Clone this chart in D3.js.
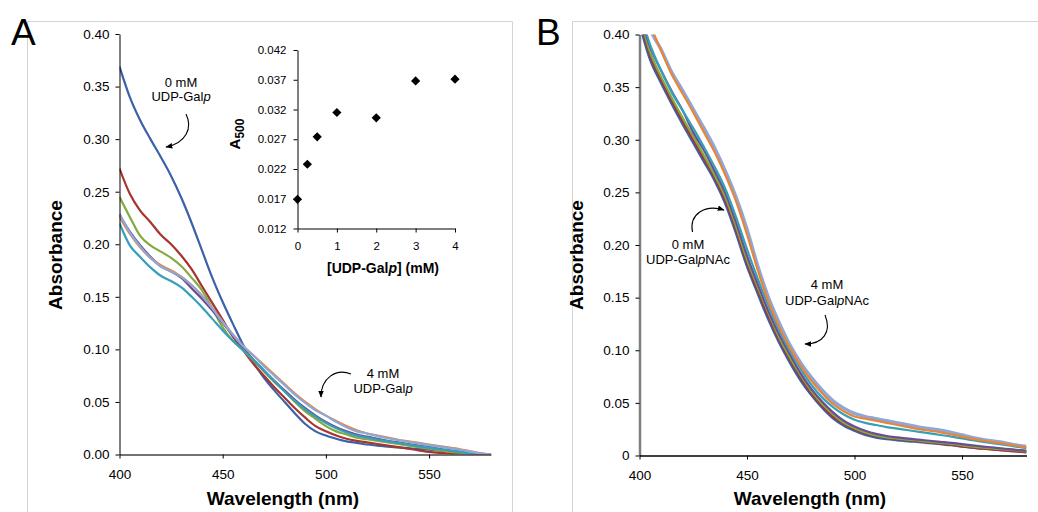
<!DOCTYPE html>
<html><head><meta charset="utf-8">
<script src="https://cdn.jsdelivr.net/npm/d3@7"></script>
<style>
body{margin:0;background:#fff;}
svg{display:block;font-family:"Liberation Sans",Arial,sans-serif;}
</style></head><body>
<svg id="fig" width="1038" height="512"></svg>
<script>
// Wavelength grid (nm) shared by all spectra
const wavelengths = d3.range(400, 581, 5);

// Panel A: spectra with UDP-Galp (0, 0.25, 0.5, 1, 2, 3, 4 mM)
const galp0   = [0.369,0.340,0.318,0.300,0.283,0.265,0.244,0.220,0.194,0.168, 0.145,0.124,0.104,0.087,0.073,0.061,0.050,0.039,0.029,0.022, 0.018,0.015,0.0125,0.011,0.0095,0.0085,0.0075,0.0068,0.006,0.0052, 0.0045,0.0037,0.003,0.002,0.0012,0.0004,0];
const galp025 = [0.272,0.248,0.232,0.221,0.209,0.200,0.189,0.176,0.160,0.144, 0.128,0.112,0.099,0.086,0.075,0.064,0.054,0.044,0.035,0.027, 0.022,0.018,0.015,0.013,0.0115,0.010,0.0085,0.007,0.0055,0.004, 0.0025,0.0015,0.0008,0.0003,0,0,0];
const galp05  = [0.245,0.226,0.208,0.199,0.193,0.187,0.179,0.168,0.156,0.139, 0.121,0.108,0.099,0.089,0.079,0.069,0.060,0.050,0.041,0.034, 0.027,0.022,0.019,0.016,0.0145,0.013,0.0115,0.010,0.0085,0.007, 0.0055,0.004,0.0028,0.0017,0.0008,0.0002,0];
const galp1   = [0.228,0.212,0.199,0.188,0.179,0.174,0.168,0.158,0.148,0.137, 0.125,0.113,0.101,0.090,0.080,0.070,0.061,0.052,0.044,0.037, 0.031,0.026,0.022,0.019,0.017,0.015,0.013,0.0115,0.010,0.0085, 0.007,0.0055,0.004,0.0027,0.0015,0.0005,0];
const galp2   = [0.220,0.199,0.188,0.178,0.170,0.165,0.159,0.150,0.140,0.129, 0.118,0.108,0.099,0.090,0.080,0.070,0.060,0.051,0.043,0.036, 0.030,0.025,0.021,0.018,0.016,0.014,0.0125,0.011,0.0095,0.008, 0.0065,0.005,0.0038,0.0025,0.0013,0.0004,0];
const galp3   = [0.226,0.210,0.197,0.187,0.180,0.175,0.169,0.161,0.151,0.139, 0.126,0.114,0.103,0.094,0.085,0.076,0.067,0.058,0.050,0.043, 0.037,0.032,0.027,0.023,0.020,0.018,0.016,0.014,0.0125,0.011, 0.0095,0.008,0.0065,0.005,0.003,0.0012,0];
const galp4   = [0.229,0.211,0.198,0.187,0.179,0.174,0.169,0.161,0.151,0.139, 0.126,0.114,0.103,0.094,0.084,0.075,0.066,0.057,0.049,0.042, 0.037,0.031,0.026,0.022,0.020,0.0175,0.0155,0.0138,0.012,0.0105, 0.009,0.0075,0.006,0.0045,0.0028,0.001,0];

// Panel B: spectra with UDP-GalpNAc (0, 0.25, 0.5, 1, 2, 3, 4 mM)
const galnac0   = [0.412,0.377,0.355,0.335,0.316,0.298,0.280,0.262,0.240,0.212, 0.181,0.155,0.130,0.108,0.089,0.072,0.058,0.046,0.036,0.029, 0.024,0.020,0.0175,0.016,0.015,0.014,0.0133,0.0123,0.0113,0.0103, 0.009,0.008,0.007,0.0062,0.0055,0.0045,0.0038];
const galnac025 = [0.415,0.380,0.357,0.337,0.318,0.300,0.282,0.264,0.242,0.214, 0.183,0.157,0.132,0.110,0.091,0.074,0.059,0.047,0.037,0.030, 0.025,0.021,0.0185,0.0168,0.0155,0.0145,0.0135,0.0125,0.0113,0.010, 0.0087,0.0075,0.0064,0.0055,0.0047,0.0038,0.003];
const galnac05  = [0.418,0.383,0.360,0.340,0.321,0.303,0.285,0.266,0.245,0.217, 0.186,0.160,0.135,0.112,0.093,0.076,0.061,0.049,0.039,0.031, 0.026,0.022,0.019,0.0172,0.016,0.015,0.014,0.013,0.012,0.011, 0.0097,0.0085,0.0075,0.0066,0.0058,0.0048,0.004];
const galnac1   = [0.420,0.388,0.366,0.346,0.328,0.307,0.290,0.270,0.249,0.221, 0.190,0.163,0.137,0.115,0.096,0.078,0.063,0.051,0.041,0.033, 0.0275,0.0235,0.0205,0.0185,0.0172,0.016,0.015,0.014,0.013,0.012, 0.0108,0.0096,0.0085,0.0074,0.0064,0.0054,0.0045];
const galnac2   = [0.422,0.390,0.366,0.345,0.328,0.311,0.293,0.274,0.253,0.226, 0.196,0.168,0.142,0.119,0.099,0.082,0.067,0.055,0.046,0.039, 0.034,0.031,0.029,0.027,0.0255,0.024,0.0225,0.021,0.0195,0.018, 0.0163,0.0145,0.013,0.0115,0.010,0.0085,0.007];
const galnac3   = [0.445,0.410,0.385,0.362,0.344,0.326,0.307,0.288,0.266,0.241, 0.210,0.176,0.146,0.122,0.102,0.085,0.071,0.059,0.049,0.042, 0.037,0.035,0.033,0.031,0.029,0.027,0.025,0.0235,0.022,0.020, 0.018,0.0158,0.014,0.0125,0.011,0.0093,0.0075];
const galnac4   = [0.440,0.405,0.386,0.364,0.347,0.329,0.311,0.292,0.270,0.245, 0.215,0.180,0.150,0.126,0.105,0.088,0.074,0.062,0.052,0.045, 0.040,0.037,0.035,0.033,0.031,0.029,0.027,0.0255,0.024,0.022, 0.0195,0.017,0.015,0.0135,0.012,0.010,0.0085];

// Inset: absorbance at 500 nm vs [UDP-Galp]
const insetConc = [0, 0.25, 0.5, 1, 2, 3, 4];
const insetA500 = [0.0169, 0.0228, 0.0274, 0.0315, 0.0306, 0.0368, 0.0371];

// Tick labels
const absTicks = [0, 0.05, 0.10, 0.15, 0.20, 0.25, 0.30, 0.35, 0.40];
const wlTicks = [400, 450, 500, 550];
const insetYTicks = [0.012, 0.017, 0.022, 0.027, 0.032, 0.037, 0.042];
const insetXTicks = [0, 1, 2, 3, 4];

const seriesColors = ["#3b62a8", "#a8332f", "#84aa3e", "#6a4e95", "#36a0ba", "#ec8433", "#8da7d8"];

const svg = d3.select("#fig");

// Panel frames
svg.append("path").attr("d", "M27.5,520V21.5H512.5V520").attr("fill", "none").attr("stroke", "#d4d4d4").attr("stroke-width", 1);
svg.append("path").attr("d", "M572.5,520V21.5H1045").attr("fill", "none").attr("stroke", "#d4d4d4").attr("stroke-width", 1);

// Panel letters
svg.append("text").attr("x", 11).attr("y", 45).attr("font-size", 37).text("A");
svg.append("text").attr("x", 536).attr("y", 45).attr("font-size", 37).text("B");

const defs = svg.append("defs");
defs.append("marker").attr("id", "head").attr("viewBox", "0 0 10 10").attr("refX", 9).attr("refY", 5)
  .attr("markerWidth", 7).attr("markerHeight", 7).attr("markerUnits", "userSpaceOnUse").attr("orient", "auto")
  .append("path").attr("d", "M0,1L10,5L0,9Z").attr("fill", "#000");

function styleAxis(g, domainColor, domainWidth) {
  g.select(".domain").attr("stroke", domainColor).attr("stroke-width", domainWidth);
  g.selectAll(".tick line").attr("stroke", "#000");
  g.selectAll(".tick text").attr("fill", "#000").attr("font-family", "Liberation Sans, Arial, sans-serif");
}

function panel(opts) {
  const { x, y, series, clipId, yFmt, widths, order } = opts;
  const g = svg.append("g");
  defs.append("clipPath").attr("id", clipId).append("rect")
    .attr("x", x.range()[0]).attr("y", y.range()[1])
    .attr("width", x.range()[1] - x.range()[0]).attr("height", y.range()[0] - y.range()[1]);
  const line = d3.line().curve(d3.curveMonotoneX).x((d, i) => x(wavelengths[i])).y(d => y(d));
  const lines = g.append("g").attr("clip-path", `url(#${clipId})`);
  order.forEach(i => {
    lines.append("path").datum(series[i]).attr("d", line)
      .attr("fill", "none").attr("stroke", seriesColors[i])
      .attr("stroke-width", widths[i]).attr("stroke-linejoin", "round");
  });
  const ya = g.append("g").attr("transform", `translate(${x.range()[0]},0)`)
    .call(d3.axisLeft(y).tickValues(absTicks).tickFormat(yFmt).tickSizeInner(4).tickSizeOuter(0).tickPadding(6));
  ya.selectAll("text").attr("font-size", 13.5);
  styleAxis(ya, opts.yAxisColor, opts.yAxisWidth);
  const xa = g.append("g").attr("transform", `translate(0,${y.range()[0]})`)
    .call(d3.axisBottom(x).tickValues(wlTicks).tickSizeInner(4).tickSizeOuter(0).tickPadding(11));
  xa.selectAll("text").attr("font-size", 13.5);
  styleAxis(xa, opts.xAxisColor, opts.xAxisWidth);
  svg.append("text").attr("x", opts.xTitleX).attr("y", 505).attr("text-anchor", "middle")
    .attr("font-size", 19).attr("font-weight", "bold").text("Wavelength (nm)");
  svg.append("text").attr("transform", `translate(${opts.yTitleX},255) rotate(-90)`).attr("text-anchor", "middle")
    .attr("font-size", 19).attr("font-weight", "bold").text("Absorbance");
}

// Panel A
const xA = d3.scaleLinear().domain([400, 580]).range([119.5, 491]);
const yA = d3.scaleLinear().domain([0, 0.40]).range([454.5, 34]);
panel({ x: xA, y: yA, series: [galp0, galp025, galp05, galp1, galp2, galp3, galp4], clipId: "clipA",
  yFmt: d3.format(".2f"), widths: [2.2, 2.2, 2.2, 2.2, 2.2, 2.2, 2.2], order: [0, 1, 2, 3, 4, 5, 6],
  yAxisColor: "#000", yAxisWidth: 1, xAxisColor: "#444", xAxisWidth: 1.5, xTitleX: 283, yTitleX: 62 });

// Panel B
const xB = d3.scaleLinear().domain([400, 580]).range([639.5, 1026.5]);
const yB = d3.scaleLinear().domain([0, 0.40]).range([455.5, 34.5]);
panel({ x: xB, y: yB, series: [galnac0, galnac025, galnac05, galnac1, galnac2, galnac3, galnac4], clipId: "clipB",
  yFmt: d => d === 0 ? "0" : d3.format(".2f")(d), widths: [3.4, 2.2, 2.2, 2.2, 2.2, 2.2, 3.4], order: [6, 0, 1, 2, 3, 4, 5],
  yAxisColor: "#808080", yAxisWidth: 2.5, xAxisColor: "#000", xAxisWidth: 1.3, xTitleX: 810, yTitleX: 583 });

// Inset: A500 vs [UDP-Galp]
const xI = d3.scaleLinear().domain([0, 4]).range([297.5, 455]);
const yI = d3.scaleLinear().domain([0.012, 0.042]).range([228.5, 50]);
const yIa = svg.append("g").attr("transform", "translate(297.5,0)")
  .call(d3.axisLeft(yI).tickValues(insetYTicks).tickFormat(d3.format(".3f")).tickSizeInner(4).tickSizeOuter(0).tickPadding(7));
yIa.selectAll("text").attr("font-size", 11.5);
styleAxis(yIa, "#000", 1);
const xIa = svg.append("g").attr("transform", "translate(0,228.5)")
  .call(d3.axisBottom(xI).tickValues(insetXTicks).tickFormat(d3.format("d")).tickSizeInner(4).tickSizeOuter(0).tickPadding(9));
xIa.selectAll("text").attr("font-size", 11.5);
styleAxis(xIa, "#000", 1);
svg.append("g").selectAll("path").data(insetConc).join("path")
  .attr("transform", (d, i) => `translate(${xI(d)},${yI(insetA500[i])})`)
  .attr("d", "M0,-4.6L4.6,0L0,4.6L-4.6,0Z").attr("fill", "#000");
const itx = svg.append("text").attr("x", 383).attr("y", 273).attr("text-anchor", "middle")
  .attr("font-size", 14).attr("font-weight", "bold");
itx.append("tspan").text("[UDP-Gal");
itx.append("tspan").attr("font-style", "italic").text("p");
itx.append("tspan").text("] (mM)");
const ity = svg.append("text").attr("transform", "translate(240,134) rotate(-90)").attr("text-anchor", "middle")
  .attr("font-size", 15).attr("font-weight", "bold");
ity.append("tspan").text("A");
ity.append("tspan").attr("font-size", 12).attr("dy", 4).text("500");

// Annotations
function label(cx, y1, y2, top, name, suffix) {
  svg.append("text").attr("x", cx).attr("y", y1).attr("text-anchor", "middle").attr("font-size", 13).text(top);
  const t = svg.append("text").attr("x", cx).attr("y", y2).attr("text-anchor", "middle").attr("font-size", 13);
  t.append("tspan").text(name);
  t.append("tspan").attr("font-style", "italic").text("p");
  if (suffix) t.append("tspan").text(suffix);
}
function arrow(d) {
  svg.append("path").attr("d", d).attr("fill", "none").attr("stroke", "#000").attr("stroke-width", 1.1)
    .attr("marker-end", "url(#head)");
}
label(181, 87, 101, "0 mM", "UDP-Gal", "");
arrow("M186,114C193,128 186,143 166,147");
label(383, 378, 393, "4 mM", "UDP-Gal", "");
arrow("M351,374C336,368 321,378 321,397");
label(688, 249, 264, "0 mM", "UDP-Gal", "NAc");
arrow("M692.5,232C689,214 705,204 724,210");
label(827, 289, 305, "4 mM", "UDP-Gal", "NAc");
arrow("M825,315C832,332 823,344 805,344");
</script>
</body></html>
